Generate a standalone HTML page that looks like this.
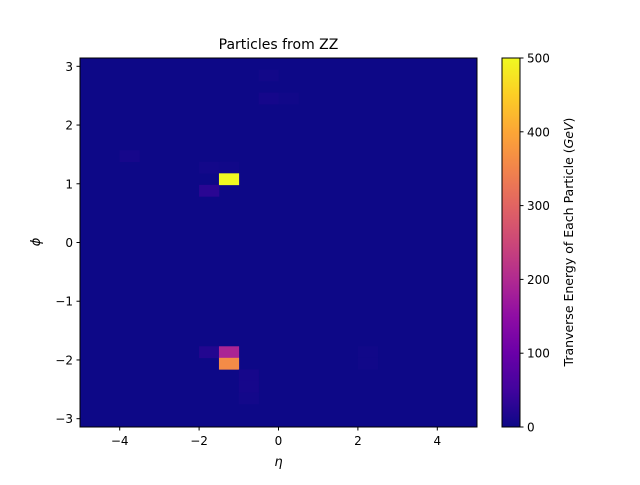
<!DOCTYPE html>
<html><head><meta charset="utf-8"><style>
body{margin:0;background:#fff;font-family:"Liberation Sans","DejaVu Sans",sans-serif;}
svg text{font-family:"DejaVu Sans","Liberation Sans",sans-serif;fill:#000;}
</style></head><body>
<svg id="c" width="640" height="480"></svg>
<script>
const etaTicks=[-4,-2,0,2,4];
const phiTicks=[-3,-2,-1,0,1,2,3];
const cbTicks=[0,100,200,300,400,500];
const nEta=20, nPhi=32;
// nonzero cells: [etaBin, phiBinFromTop, energy]
const cellEta=[9,9,10,2,6,7,7,6,6,7,14,7,14,8,8,8];
const cellPhi=[1,3,3,8,9,9,10,11,25,25,25,26,26,27,28,29];
const cellVal=[5,8,4,9,6,4,500,28,20,190,4,360,4,9,9,6];
const plasma=["#0d0887","#41049d","#6a00a8","#8f0da4","#b12a90","#cc4778","#e16462","#f2844b","#fca636","#fcce25","#f0f921"];
const NS="http://www.w3.org/2000/svg";
const svg=document.getElementById('c');
function mk(t,a,p){const e=document.createElementNS(NS,t);for(const k in a)e.setAttribute(k,a[k]);(p||svg).appendChild(e);return e;}
function hex(h){return [1,3,5].map(i=>parseInt(h.substr(i,2),16));}
function cmap(v){let t=Math.max(0,Math.min(1,v/500))*10;let i=Math.min(9,Math.floor(t));let f=t-i;const a=hex(plasma[i]),b=hex(plasma[i+1]);return 'rgb('+a.map((x,k)=>Math.round(x+(b[k]-x)*f)).join(',')+')';}
const X0=80,X1=477,Y0=58,Y1=427;
const xs=v=>X0+(v+5)/10*(X1-X0);
const ys=v=>Y0+(Math.PI-v)/(2*Math.PI)*(Y1-Y0);
const cw=(X1-X0)/nEta, ch=(Y1-Y0)/nPhi;
let bg=mk('rect',{x:X0,y:Y0,width:X1-X0,height:Y1-Y0,fill:cmap(0)});


for(let i=0;i<cellVal.length;i++){
  const eta=-5+cellEta[i]*10/nEta, phi=Math.PI-cellPhi[i]*2*Math.PI/nPhi;
  const r=mk('rect',{x:xs(eta),y:ys(phi),width:cw+0.3,height:ch+0.3,fill:cmap(cellVal[i])});
  
  
}
let fr=mk('rect',{x:X0,y:Y0,width:X1-X0,height:Y1-Y0,fill:'none',stroke:'#000','stroke-width':1});


etaTicks.forEach(v=>{const x=xs(v);mk('line',{x1:x,x2:x,y1:Y1,y2:Y1+3.5,stroke:'#000'});
  const t=mk('text',{x:x,y:Y1+18,'font-size':12,'text-anchor':'middle'});t.textContent=(v<0?'\u2212'+(-v):v);
  
  });
phiTicks.forEach(v=>{const y=ys(v);mk('line',{x1:X0-3.5,x2:X0,y1:y,y2:y,stroke:'#000'});
  const t=mk('text',{x:X0-7,y:y+4.5,'font-size':12,'text-anchor':'end'});t.textContent=(v<0?'\u2212'+(-v):v);
  
  });
let tt=mk('text',{x:278.5,y:49,'font-size':14,'text-anchor':'middle'});tt.textContent='Particles from ZZ';


let xl=mk('text',{x:278.5,y:466,'font-size':13,'text-anchor':'middle','font-style':'italic'});xl.textContent='η';


let yl=mk('text',{x:0,y:0,'font-size':13,'text-anchor':'middle','font-style':'italic',transform:'translate(40,242) rotate(-90)'});yl.textContent='ϕ';


// colorbar
const CX=502,CW=18;
const defs=mk('defs',{});const g=mk('linearGradient',{id:'pg',x1:0,y1:1,x2:0,y2:0},defs);
plasma.forEach((c,i)=>mk('stop',{offset:i/10,'stop-color':c},g));
let cb=mk('rect',{x:CX,y:Y0,width:CW,height:Y1-Y0,fill:'url(#pg)',stroke:'#000','stroke-width':1});


cbTicks.forEach(v=>{const y=Y1-v/500*(Y1-Y0);mk('line',{x1:CX+CW,x2:CX+CW+3.5,y1:y,y2:y,stroke:'#000'});
  const t=mk('text',{x:CX+CW+7,y:y+4.5,'font-size':12});t.textContent=v;
  
  });
let cl=mk('text',{x:0,y:0,'font-size':12.5,'text-anchor':'middle',transform:'translate(573,242) rotate(-90)'});


cl.appendChild(document.createTextNode('Tranverse Energy of Each Particle ('));
const ts=mk('tspan',{'font-style':'italic'},cl);ts.textContent='GeV';
cl.appendChild(document.createTextNode(')'));
</script>
</body></html>
